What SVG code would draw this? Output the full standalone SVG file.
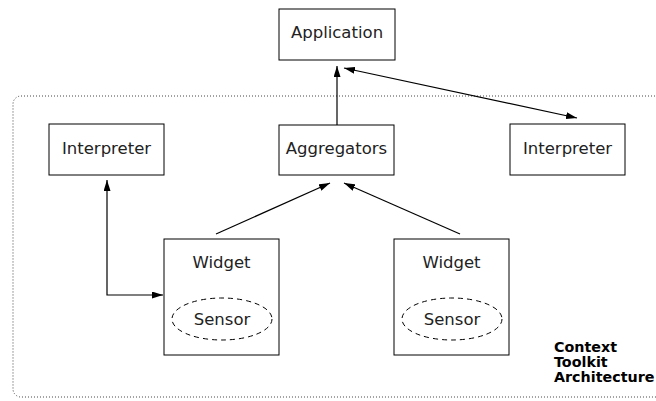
<svg xmlns="http://www.w3.org/2000/svg" width="656" height="401" viewBox="0 0 656 401">
<style>
.box{fill:#fff;stroke:#000;stroke-width:1}
.lbl{font-family:"DejaVu Sans",sans-serif;font-size:16.5px;fill:#222;text-anchor:middle}
.sensor{fill:none;stroke:#000;stroke-width:1;stroke-dasharray:5 4}
.conn{fill:none;stroke:#000;stroke-width:1.2}
.title{font-family:"DejaVu Sans",sans-serif;font-weight:bold;font-size:14.3px;fill:#000}
</style>
<defs>
<marker id="ah" viewBox="0 0 11 7" refX="11" refY="3.5" markerWidth="11" markerHeight="7" markerUnits="userSpaceOnUse" orient="auto-start-reverse">
<path d="M0,0 L11,3.5 L0,7 z" fill="#000"/>
</marker>
</defs>
<g id="boundary">
<rect x="13" y="96" width="660" height="301" rx="8" ry="8" fill="none" stroke="#444" stroke-width="1" stroke-dasharray="1 2"/>
</g>
<g id="connectors">
<line class="conn" x1="337" y1="125" x2="337" y2="66" marker-end="url(#ah)"/>
<line class="conn" x1="344" y1="68" x2="577" y2="118" marker-start="url(#ah)" marker-end="url(#ah)"/>
<polyline class="conn" points="107,180 107,295 163,295" marker-start="url(#ah)" marker-end="url(#ah)"/>
<line class="conn" x1="216" y1="234" x2="330" y2="183" marker-end="url(#ah)"/>
<line class="conn" x1="460" y1="234" x2="344" y2="183" marker-end="url(#ah)"/>
</g>
<g id="application">
<rect class="box" x="279" y="9" width="116" height="51"/>
<text class="lbl" x="337" y="38">Application</text>
</g>
<g id="interpreter-left">
<rect class="box" x="49" y="124" width="115" height="51"/>
<text class="lbl" x="106.5" y="154">Interpreter</text>
</g>
<g id="aggregators">
<rect class="box" x="279" y="125" width="115" height="50"/>
<text class="lbl" x="336.5" y="154">Aggregators</text>
</g>
<g id="interpreter-right">
<rect class="box" x="510" y="124" width="115" height="51"/>
<text class="lbl" x="567.5" y="154">Interpreter</text>
</g>
<g id="widget-left">
<rect class="box" x="164" y="239" width="115" height="116"/>
<text class="lbl" x="221.5" y="268">Widget</text>
<ellipse class="sensor" cx="222" cy="319" rx="50" ry="21"/>
<text class="lbl" x="222" y="325">Sensor</text>
</g>
<g id="widget-right">
<rect class="box" x="394" y="239" width="115" height="116"/>
<text class="lbl" x="451.5" y="268">Widget</text>
<ellipse class="sensor" cx="452" cy="319" rx="50" ry="21"/>
<text class="lbl" x="452" y="325">Sensor</text>
</g>
<g id="caption">
<text class="title" x="554" y="352">Context</text>
<text class="title" x="554" y="367">Toolkit</text>
<text class="title" x="554" y="382">Architecture</text>
</g>
</svg>
